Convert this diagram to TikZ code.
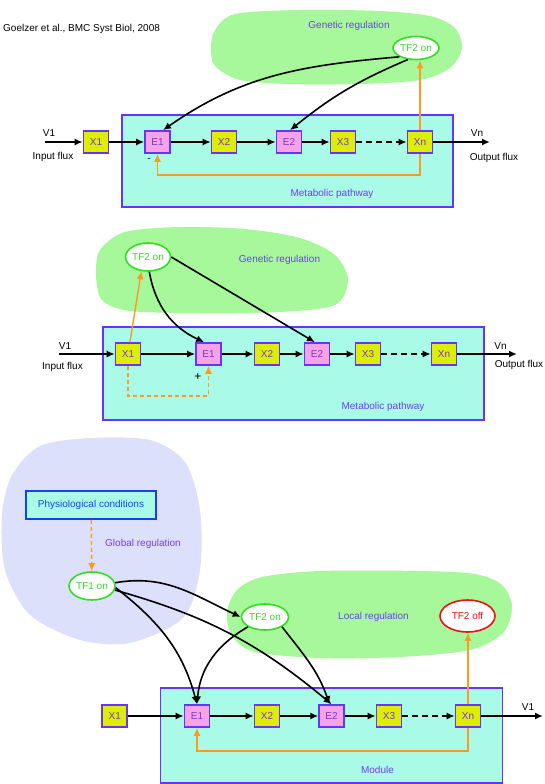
\documentclass[tikz,border=0pt]{standalone}
\usepackage{fontspec}
\setmainfont{Liberation Sans}
\usetikzlibrary{shapes,arrows,arrows.meta}
\usepackage{xcolor}
\definecolor{xfill}{RGB}{221,238,0}
\definecolor{efill}{RGB}{245,163,230}
\definecolor{boxline}{RGB}{102,51,255}
\definecolor{boxtext}{RGB}{119,51,221}
\definecolor{pathfill}{RGB}{170,250,232}
\definecolor{genfill}{RGB}{166,248,154}
\definecolor{globfill}{RGB}{221,224,250}
\definecolor{tfgreen}{RGB}{51,221,34}
\definecolor{tfred}{RGB}{238,17,17}
\definecolor{fborange}{RGB}{255,153,34}
\definecolor{labblue}{RGB}{111,63,240}
\definecolor{physblue}{RGB}{17,68,238}

\begin{document}
\begin{tikzpicture}[x=1pt,y=-1pt,font=\fontsize{10}{12}\selectfont,
        metab/.style={draw=boxline,line width=1.6pt,minimum width=25pt,minimum height=22pt,inner sep=0pt,text=boxtext},
        xbox/.style={metab,fill=xfill},
        ebox/.style={metab,fill=efill},
        tf/.style={ellipse,draw=tfgreen,fill=white,line width=1.6pt,text=tfgreen,minimum width=46pt,minimum height=27pt,inner sep=0pt},
        tfoff/.style={tf,draw=tfred,text=tfred,minimum width=55pt,minimum height=32pt},
        area/.style={draw=boxline,line width=1.4pt,fill=pathfill},
        lab/.style={text=labblue},
        flux/.style={line width=1.6pt,-{Latex[length=8pt,width=7pt]}},
        fb/.style={draw=fborange,line width=1.4pt,-{Latex[length=8pt,width=7pt]}},
        fbdash/.style={fb,dash pattern=on 4pt off 3pt}]
        \useasboundingbox (0,0) rectangle (545,784);
        % top: genetic regulation of a pathway
        \fill[genfill] plot[smooth cycle] coordinates {(215,30) (235,14) (300,10) (380,11) (430,16) (455,28) (462,48) (450,68) (420,80) (360,84) (290,84) (240,80) (215,66) (211,48)};
        \node[anchor=west,inner sep=0pt] at (3,29) (ref) {Goelzer et al., BMC Syst Biol, 2008};
        \node[lab] at (349,26) (gena) {Genetic regulation};
        \draw[area] (122,115) rectangle (453,207);
        \node[lab] at (332,194) (meta) {Metabolic pathway};
        \node[tf,minimum height=23pt] at (416,48) (tf2a) {TF2 on};
        \node[xbox] at (96,142) (x1a) {X1};
        \node[ebox] at (157.5,142) (e1a) {E1};
        \node[xbox] at (224,142) (x2a) {X2};
        \node[ebox] at (289,142) (e2a) {E2};
        \node[xbox] at (343,142) (x3a) {X3};
        \node[xbox] at (420,142) (xna) {Xn};
        \coordinate (ina) at (45,142);
        \coordinate (outa) at (490,142);
        \node at (49,133) (v1a) {V1};
        \node at (53,157) (influxa) {Input flux};
        \node at (477,133) (vna) {Vn};
        \node at (494,158) (outfluxa) {Output flux};
        \draw[flux] (ina) -- (x1a);
        \draw[flux] (x1a) -- (e1a);
        \draw[flux] (e1a) -- (x2a);
        \draw[flux] (x2a) -- (e2a);
        \draw[flux] (e2a) -- (x3a);
        \draw[flux,dash pattern=on 6pt off 4pt] (x3a) -- (xna);
        \draw[flux] (xna) -- (outa);
        \draw[flux] (tf2a.208) to[out=185,in=35] (e1a.65);
        \draw[flux] (tf2a.235) to[bend right=8] (e2a.85);
        \draw[fb] (xna) -- (xna |- tf2a.south);
        \draw[fb] (xna.south) -- ++(0,21) -| (e1a.south);
        \node at (149,160) (minus) {-};

        % middle: the same pathway, feed forward
        \fill[genfill] plot[smooth cycle] coordinates {(100,250) (125,232) (180,227) (245,229) (300,238) (335,255) (348,280) (335,305) (280,312) (200,313) (130,311) (102,300) (96,275)};
        \node[lab] at (279.5,260) (genb) {Genetic regulation};
        \draw[area] (103,327) rectangle (484,420);
        \node[lab] at (383,407) (metb) {Metabolic pathway};
        \node[tf,minimum width=45pt,minimum height=28pt] at (148,257) (tf2b) {TF2 on};
        \node[xbox] at (128,354) (x1b) {X1};
        \node[ebox] at (208.5,354) (e1b) {E1};
        \node[xbox] at (267,354) (x2b) {X2};
        \node[ebox] at (317,354) (e2b) {E2};
        \node[xbox] at (368,354) (x3b) {X3};
        \node[xbox] at (444,354) (xnb) {Xn};
        \coordinate (inb) at (59,354);
        \coordinate (outb) at (517,354);
        \node at (65,346) (v1b) {V1};
        \node at (62.5,367) (influxb) {Input flux};
        \node at (500.5,346) (vnb) {Vn};
        \node at (519,365) (outfluxb) {Output flux};
        \draw[flux] (inb) -- (x1b);
        \draw[flux] (x1b) -- (e1b);
        \draw[flux] (e1b) -- (x2b);
        \draw[flux] (x2b) -- (e2b);
        \draw[flux] (e2b) -- (x3b);
        \draw[flux,dash pattern=on 6pt off 4pt] (x3b) -- (xnb);
        \draw[flux] (xnb) -- (outb);
        \draw[fb] (x1b) -- (tf2b.245);
        \draw[flux] (tf2b.275) to[out=-80,in=155] (e1b.110);
        \draw[flux] (tf2b.east) -- (e2b.100);
        \draw[fbdash] (x1b.south) -- ++(0,30) -| (e1b.south);
        \node[font=\fontsize{12}{12}\selectfont] at (198,377) (plus) {+};

        % bottom: global and local regulation of a module
        \fill[globfill] plot[smooth cycle] coordinates {(40,446) (90,438) (150,440) (185,462) (200,510) (200,570) (183,618) (130,643) (80,640) (30,615) (5,570) (2,515) (12,475)};
        \fill[genfill] plot[smooth cycle] coordinates {(237,590) (262,577) (320,571) (420,571) (475,574) (502,585) (512,607) (503,633) (470,650) (400,657) (320,658) (255,652) (232,636) (227,612)};
        \node[draw=physblue,line width=1.6pt,fill=pathfill,text=physblue,minimum width=130pt,minimum height=28pt,inner sep=0pt] at (91,505) (phys) {Physiological conditions};
        \node[lab] at (143,544) (glob) {Global regulation};
        \node[tf,minimum height=28pt] at (92,586) (tf1) {TF1 on};
        \node[tf,minimum width=47pt,minimum height=26pt] at (265,617) (tf2c) {TF2 on};
        \node[lab] at (373.5,617) (loc) {Local regulation};
        \node[tfoff] at (467.5,616) (tf2off) {TF2 off};
        \draw[area] (160.6,688) rectangle (502.6,783);
        \node[lab] at (377.5,770) (modc) {Module};
        \node[xbox] at (114.7,716) (x1c) {X1};
        \node[ebox] at (197,716) (e1c) {E1};
        \node[xbox] at (267,716) (x2c) {X2};
        \node[ebox] at (331.6,716) (e2c) {E2};
        \node[xbox] at (389,716) (x3c) {X3};
        \node[xbox] at (468,716) (xnc) {Xn};
        \coordinate (outc) at (543,716);
        \node at (528,707) (v1c) {V1};
        \draw[flux] (x1c) -- (e1c);
        \draw[flux] (e1c) -- (x2c);
        \draw[flux] (x2c) -- (e2c);
        \draw[flux] (e2c) -- (x3c);
        \draw[flux,dash pattern=on 6pt off 4pt] (x3c) -- (xnc);
        \draw[flux] (xnc) -- (outc);
        \draw[fbdash] (phys) -- (tf1);
        \draw[flux] (tf1.8) to[out=10,in=155] (tf2c.west);
        \draw[flux] (tf1.-4) to[out=-38,in=105] (e1c.north);
        \draw[flux] (tf1.-10) to[bend left=12] (e2c.north);
        \draw[flux] (tf2c.210) to[out=210,in=85] (e1c.north);
        \draw[flux] (tf2c.330) to[out=-52,in=109] (e2c.100);
        \draw[fb] (xnc) -- (xnc |- tf2off.south);
        \draw[fb] (xnc.south) -- ++(0,23) -| (e1c.south);
\end{tikzpicture}
\end{document}
